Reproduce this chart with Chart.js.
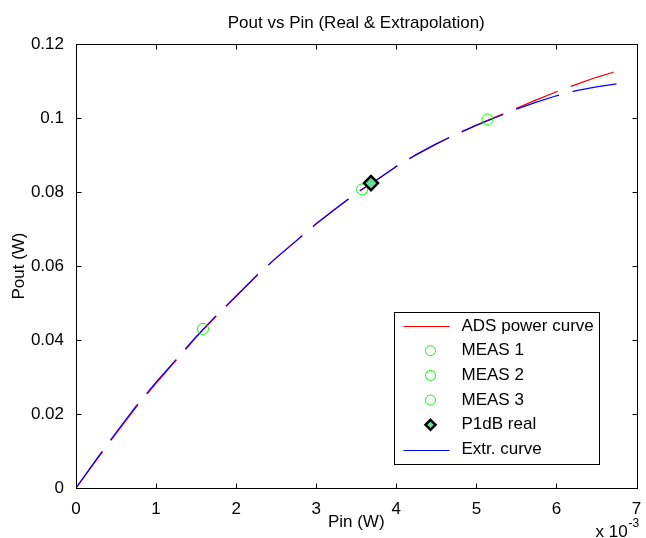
<!DOCTYPE html>
<html>
<head>
<meta charset="utf-8">
<title>Pout vs Pin</title>
<script src="https://cdn.jsdelivr.net/npm/chart.js@4"></script>
<style>
  body { margin: 0; background: #fff; }
</style>
</head>
<body>
<canvas id="myChart" width="646" height="538"></canvas>
<script>
// Pin in mW (the axis shows W with the "x 10^-3" factor, like MATLAB)
var pinMw = [0, 0.25, 0.5, 0.75, 1.0, 1.25, 1.5, 1.75, 2.0, 2.25, 2.5, 2.75, 3.0, 3.25,
             3.5, 3.75, 4.0, 4.25, 4.5, 4.75, 5.0, 5.25, 5.5, 5.75, 6.0, 6.25, 6.5, 6.75];
// Pout in W
var adsPout = [0, 0.0074, 0.0147, 0.0218, 0.0283, 0.0345, 0.0407, 0.0464, 0.0518, 0.0572,
               0.0622, 0.0668, 0.0714, 0.0756, 0.0797, 0.0832, 0.0869, 0.0901, 0.0930, 0.0957,
               0.0981, 0.1004, 0.1026, 0.1049, 0.1071, 0.1091, 0.1110, 0.1126];
var extrPout = [0, 0.0076, 0.0150, 0.0221, 0.0286, 0.0347, 0.0409, 0.0466, 0.0519, 0.0573,
                0.0622, 0.0668, 0.0714, 0.0756, 0.0797, 0.0832, 0.0869, 0.0901, 0.0930, 0.0956,
                0.0980, 0.1002, 0.1024, 0.1043, 0.1060, 0.1074, 0.1084, 0.1092];
var measNames = ['MEAS 1', 'MEAS 2', 'MEAS 3'];
var measPin = [1.586, 3.573, 5.139];
var measPout = [0.0430, 0.0807, 0.0996];
var p1dbPin = 3.684;
var p1dbPout = 0.0824;

var xTickLabels = ['0', '1', '2', '3', '4', '5', '6', '7'];
var yTickLabels = ['0', '0.02', '0.04', '0.06', '0.08', '0.1', '0.12'];

var FAMILY = '"Liberation Sans", Arial, sans-serif';
var font17 = { family: FAMILY, size: 17 };

function toPoints(xs, ys) {
    return xs.map(function(x, i) { return { x: x, y: ys[i] }; });
}

var datasets = [{
    label: 'ADS power curve',
    data: toPoints(pinMw, adsPout),
    showLine: true,
    borderColor: 'rgb(255,0,0)',
    borderWidth: 1.2,
    borderDash: [45, 14],
    pointRadius: 0,
    order: 3
}];
measNames.forEach(function(name, i) {
    datasets.push({
        label: name,
        data: [{ x: measPin[i], y: measPout[i] }],
        pointStyle: 'circle',
        pointRadius: 5.5,
        pointBorderWidth: 1,
        pointBorderColor: 'rgb(0,255,0)',
        pointBackgroundColor: 'rgba(0,0,0,0)',
        order: 1
    });
});
datasets.push({
    label: 'P1dB real',
    data: [{ x: p1dbPin, y: p1dbPout }],
    pointStyle: 'rectRot',
    pointRadius: 7,
    pointBorderWidth: 2.5,
    pointBorderColor: '#000',
    pointBackgroundColor: 'rgb(100,225,150)',
    order: 0
});
datasets.push({
    label: 'Extr. curve',
    data: toPoints(pinMw, extrPout),
    showLine: true,
    borderColor: 'rgb(0,0,255)',
    borderWidth: 1.2,
    borderDash: [45, 14],
    pointRadius: 0,
    order: 2
});

// box, inward ticks, title, exponent and legend in MATLAB style
var matlabFrame = {
    id: 'matlabFrame',
    afterDraw: function(chart) {
        var c = chart.ctx, a = chart.chartArea;
        var xs = chart.scales.x, ys = chart.scales.y;
        var L = Math.round(a.left) + 0.5, R = Math.round(a.right) + 0.5;
        var T = Math.round(a.top) + 0.5, B = Math.round(a.bottom) + 0.5;
        c.save();
        c.strokeStyle = '#000';
        c.lineWidth = 1;
        c.setLineDash([]);
        c.strokeRect(L, T, R - L, B - T);
        c.beginPath();
        xTickLabels.forEach(function(t, i) {
            var px = Math.round(xs.getPixelForValue(i)) + 0.5;
            c.moveTo(px, B); c.lineTo(px, B - 5);
            c.moveTo(px, T); c.lineTo(px, T + 5);
        });
        yTickLabels.forEach(function(t) {
            var py = Math.round(ys.getPixelForValue(parseFloat(t))) + 0.5;
            c.moveTo(L, py); c.lineTo(L + 5, py);
            c.moveTo(R, py); c.lineTo(R - 5, py);
        });
        c.stroke();

        c.fillStyle = '#000';
        c.font = '17px ' + FAMILY;
        c.textAlign = 'center';
        c.textBaseline = 'alphabetic';
        c.fillText('Pout vs Pin (Real & Extrapolation)', (a.left + a.right) / 2, 28);

        c.textAlign = 'left';
        c.fillText('x 10', a.right - 41, 537);
        c.font = '12px ' + FAMILY;
        c.fillText('-3', a.right - 8, 527);

        // legend
        var lx = a.right - 243, ly = a.top + 268, lw = 205, lh = 152;
        c.fillStyle = '#fff';
        c.fillRect(lx, ly, lw, lh);
        c.strokeRect(Math.round(lx) + 0.5, Math.round(ly) + 0.5, lw, lh);
        c.font = '17px ' + FAMILY;
        c.textBaseline = 'middle';
        chart.data.datasets.forEach(function(ds, i) {
            var y = ly + 14 + i * 24.7;
            var mx = lx + 37;
            if (ds.showLine) {
                c.strokeStyle = ds.borderColor;
                c.lineWidth = 1;
                c.beginPath();
                c.moveTo(lx + 10, Math.round(y) + 0.5);
                c.lineTo(lx + 56, Math.round(y) + 0.5);
                c.stroke();
            } else if (ds.pointStyle === 'circle') {
                c.strokeStyle = ds.pointBorderColor;
                c.lineWidth = 1;
                c.beginPath();
                c.arc(mx, y, 5, 0, Math.PI * 2);
                c.stroke();
            } else {
                c.strokeStyle = ds.pointBorderColor;
                c.fillStyle = ds.pointBackgroundColor;
                c.lineWidth = 2.5;
                c.beginPath();
                c.moveTo(mx, y - 5); c.lineTo(mx + 5, y);
                c.lineTo(mx, y + 5); c.lineTo(mx - 5, y);
                c.closePath();
                c.fill();
                c.stroke();
            }
            c.fillStyle = '#000';
            c.fillText(ds.label, lx + 68, y);
        });
        c.restore();
    }
};

var ctx = document.getElementById('myChart').getContext('2d');
var myChart = new Chart(ctx, {
    type: 'scatter',
    data: { datasets: datasets },
    options: {
        responsive: false,
        animation: false,
        events: [],
        layout: { padding: { top: 44, right: 5, left: 0, bottom: 0 } },
        elements: { line: { tension: 0 } },
        plugins: {
            legend: { display: false },
            title: { display: false },
            tooltip: { enabled: false }
        },
        scales: {
            x: {
                type: 'linear',
                min: 0,
                max: 7,
                grid: { display: false },
                border: { display: false },
                ticks: {
                    stepSize: 1,
                    padding: 3,
                    color: '#000',
                    font: font17,
                    maxRotation: 0,
                    callback: function(v, i) { return xTickLabels[i]; }
                },
                title: {
                    display: true,
                    text: 'Pin (W)',
                    color: '#000',
                    font: font17,
                    padding: { top: 0, bottom: 5 }
                },
                afterFit: function(s) { s.height = 50; }
            },
            y: {
                type: 'linear',
                min: 0,
                max: 0.12,
                grid: { display: false },
                border: { display: false },
                ticks: {
                    stepSize: 0.02,
                    padding: 4,
                    color: '#000',
                    font: font17,
                    callback: function(v, i) { return yTickLabels[i]; }
                },
                title: {
                    display: true,
                    text: 'Pout (W)',
                    color: '#000',
                    font: font17,
                    padding: { top: 9.5, bottom: 0 }
                },
                afterFit: function(s) { s.width = 76; }
            }
        }
    },
    plugins: [matlabFrame]
});
</script>
</body>
</html>
